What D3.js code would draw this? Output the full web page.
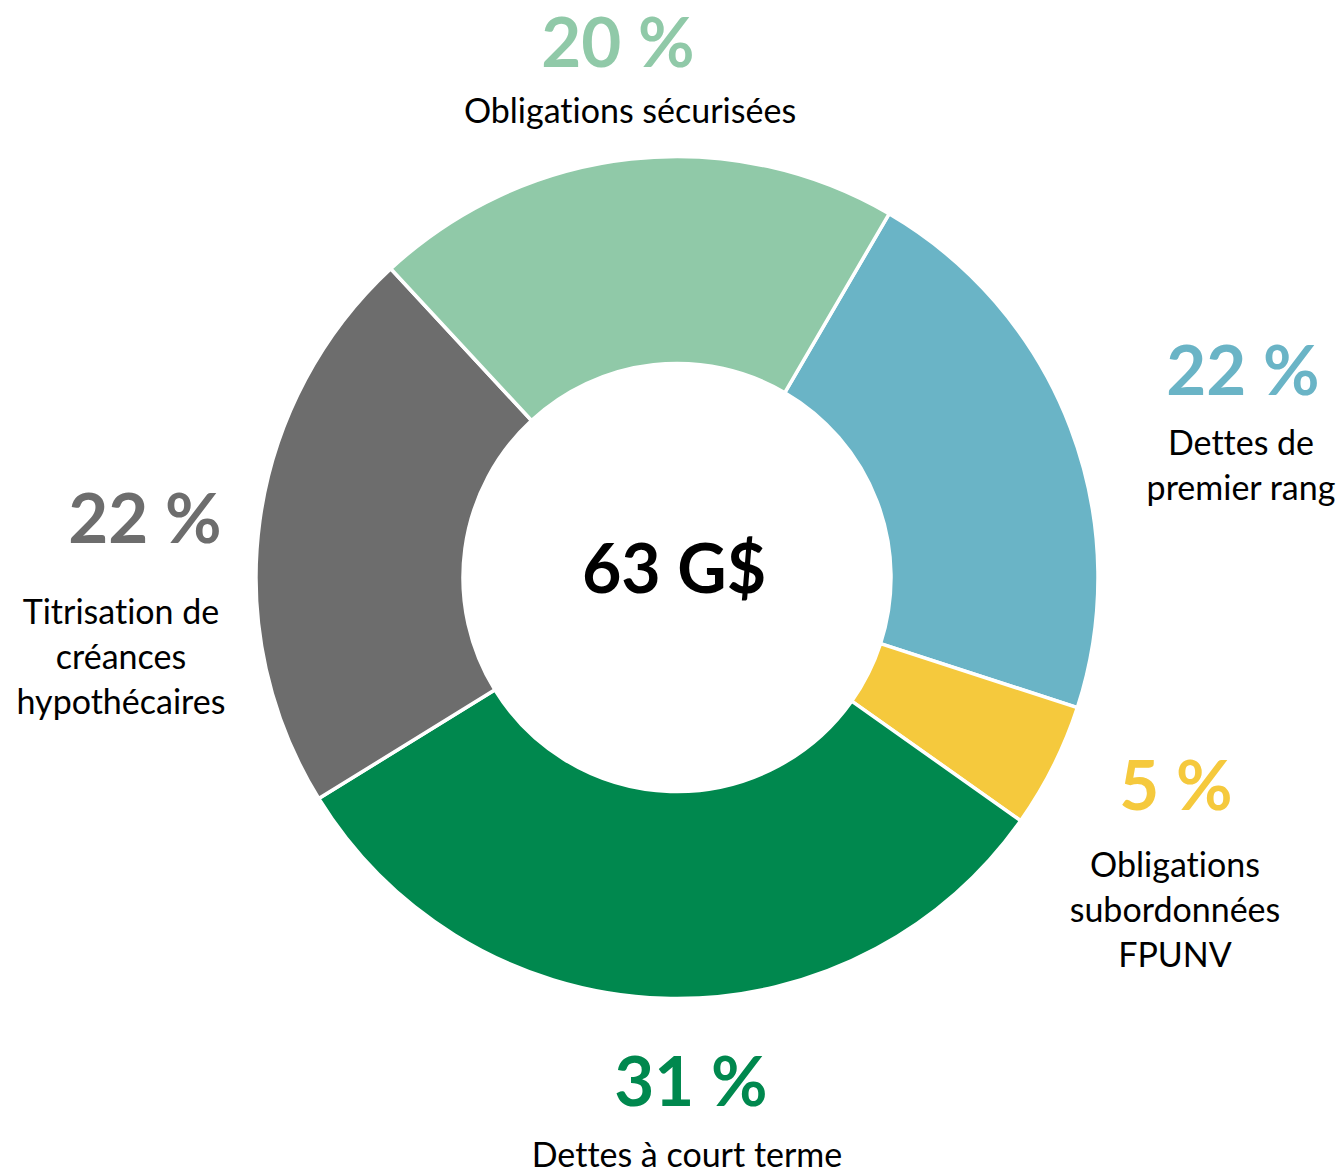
<!DOCTYPE html>
<html>
<head>
<meta charset="utf-8">
<script src="https://cdn.jsdelivr.net/npm/d3@7"></script>
<style>
  html, body { margin: 0; padding: 0; background: #ffffff; }
  svg { display: block; }
  text { font-family: Lato, "Open Sans", sans-serif; font-variant-ligatures: none; font-feature-settings: "liga" 0, "clig" 0; }
</style>
</head>
<body>
<svg id="chart" width="1344" height="1174"></svg>
<script>
// ---- Data ----
const categories = [
  ["Dettes de", "premier rang"],
  ["Obligations", "subordonnées", "FPUNV"],
  ["Dettes à court terme"],
  ["Titrisation de", "créances", "hypothécaires"],
  ["Obligations sécurisées"]
];
const shares = [21.6, 4.8, 31.4, 21.9, 20.3];   // % of total
const colors = ["#6AB4C6", "#F5C93D", "#00884E", "#6D6D6D", "#90C9A8"];
const totalLabel = "63 G$";

// ---- Layout (not data) ----
const width = 1344, height = 1174;
const cx = 677, cy = 577.5;
const outerR = 421, innerR = 214;
const firstSliceDeg = 30.25;
// label anchors: [pct x, pct baseline, name x, first name baseline]
const labelLayout = [
  [1243, 395, 1241, 455],
  [1176, 810, 1175, 877],
  [691, 1106, 687, 1167],
  [145, 543, 121, 624],
  [618, 67, 630, 123]
];
const lineGap = 45;

const svg = d3.select("#chart");
const g = svg.append("g").attr("transform", `translate(${cx},${cy})`);

const start = firstSliceDeg * Math.PI / 180;
const pie = d3.pie().sort(null).value(d => d)
  .startAngle(start).endAngle(start + 2 * Math.PI);
const arc = d3.arc().innerRadius(innerR).outerRadius(outerR);

g.selectAll("path.slice")
  .data(pie(shares))
  .join("path")
  .attr("class", "slice")
  .attr("d", arc)
  .attr("fill", (d, i) => colors[i])
  .attr("stroke", "#ffffff")
  .attr("stroke-width", 3.5)
  .attr("stroke-linejoin", "miter");

// centre total
svg.append("text")
  .attr("x", 674).attr("y", 593)
  .attr("text-anchor", "middle")
  .attr("font-size", 68).attr("font-weight", 700)
  .attr("fill", "#000000")
  .text(totalLabel);

// labels
const labels = svg.append("g");
shares.forEach((v, i) => {
  const [px, py, nx, ny] = labelLayout[i];
  labels.append("text")
    .attr("x", px).attr("y", py)
    .attr("text-anchor", "middle")
    .attr("font-size", 69).attr("font-weight", 700)
    .attr("fill", colors[i])
    .text(Math.round(v) + " %");
  const t = labels.append("text")
    .attr("text-anchor", "middle")
    .attr("font-size", 34)
    .attr("fill", "#000000");
  categories[i].forEach((line, j) => {
    t.append("tspan").attr("x", nx).attr("y", ny + j * lineGap).text(line);
  });
});
</script>
</body>
</html>
